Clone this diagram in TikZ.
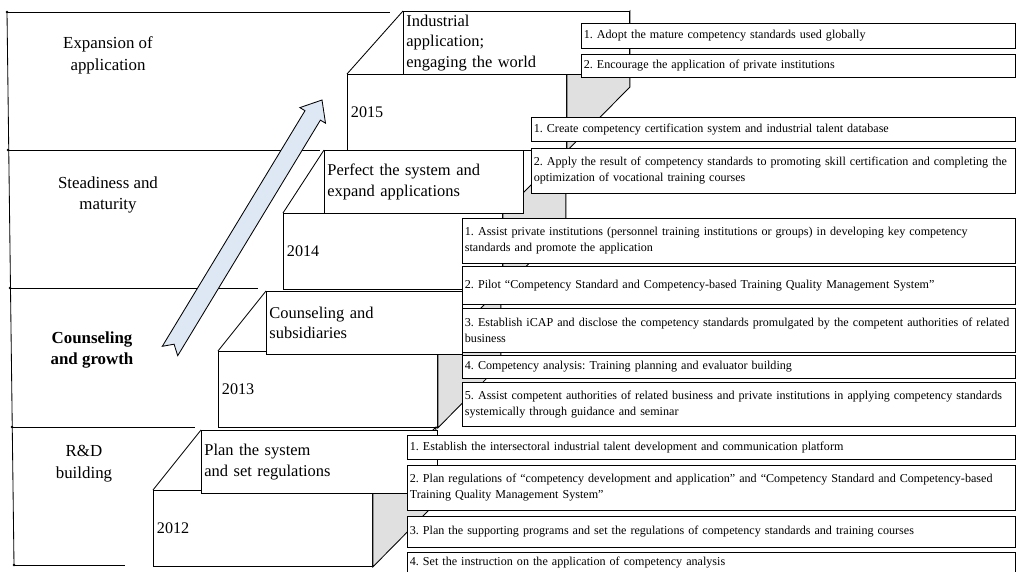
\documentclass[tikz,border=0pt]{standalone}
\usepackage{fontspec}
\setmainfont{Liberation Serif}
\usepackage{tikz}
\usetikzlibrary{positioning}
\frenchspacing
\definecolor{sidegray}{RGB}{224,224,224}
\definecolor{arrowblue}{RGB}{222,232,245}
\tikzset{
    stagelabel/.style = {align=center, font=\fontsize{12}{15.5}\selectfont},
    frontbox/.style = {rectangle, draw=black, fill=white, anchor=north west, minimum width=5.475cm, minimum height=1.9cm, text width=5.3cm, align=left, inner xsep=2pt, font=\fontsize{11.5}{14}\selectfont},
    titlebox/.style = {rectangle, draw=black, fill=white, anchor=north west, minimum height=1.575cm, align=left, inner xsep=2pt, inner ysep=1pt, font=\fontsize{11.7}{14.6}\selectfont},
    itembox/.style = {rectangle, draw=black, fill=white, anchor=north west, align=left, inner xsep=1.5pt, inner ysep=1pt, font=\fontsize{8.6}{11.4}\selectfont},
    sideface/.style = {draw=black, fill=sidegray},
}
\begin{document}
\begin{tikzpicture}[x=0.025cm, y=-0.025cm, line width=0.6pt]
\useasboundingbox (0,0) rectangle (1016,571);
% stage axis
\coordinate (ax0) at (7,12);
\coordinate (ax1) at (8,150);
\coordinate (ax2) at (10,288);
\coordinate (ax3) at (12,427);
\coordinate (ax4) at (14,565);
\coordinate (ae0) at (390,12);
\coordinate (ae1) at (320,150);
\coordinate (ae2) at (258,288);
\coordinate (ae3) at (195,427);
\coordinate (ae4) at (125,565);
\draw (ax0) -- (ax4);
\foreach \i in {0,...,4} {
    \draw (ax\i) -- (ae\i);
    \fill (ax\i) circle (1.4);
}
\node[stagelabel] at (108,55) (s4) {Expansion of\\application};
\node[stagelabel] at (108,195) (s3) {Steadiness and\\maturity};
\node[stagelabel, font=\fontsize{12}{15.5}\selectfont\bfseries] at (92,350) (s2) {Counseling\\and growth};
\node[stagelabel] at (84,464) (s1) {R\&D\\building};
%
% 2015
\node[frontbox] at (347,74) (f2015) {2015};
\draw[sideface] (f2015.north east) -- ++(63,-63) -- ++(0,76) -- (f2015.south east) -- cycle;
\node[titlebox, minimum width=5.65cm, text width=5.5cm] at (403,11) (t2015) {Industrial\\application;\\engaging the world};
\draw (f2015.north west) -- (t2015.north west);
% 2014
\node[frontbox] at (283,213) (f2014) {2014};
\draw[sideface] (f2014.north east) -- ++(63,-63) -- ++(0,76) -- (f2014.south east) -- cycle;
\node[titlebox, minimum width=4.975cm, text width=4.825cm] at (324,150) (t2014) {Perfect the system and\\expand applications};
\draw (f2014.north west) -- (t2014.north west);
% 2013
\node[frontbox] at (218,351) (f2013) {2013};
\draw[sideface] (f2013.north east) -- ++(63,-63) -- ++(0,76) -- (f2013.south east) -- cycle;
\node[titlebox, minimum width=4.9cm, text width=4.75cm] at (266,291) (t2013) {Counseling and\\subsidiaries};
\draw (f2013.north west) -- (t2013.north west);
% 2012
\node[frontbox] at (153,490) (f2012) {2012};
\draw[sideface] (f2012.north east) -- ++(63,-63) -- ++(0,76) -- (f2012.south east) -- cycle;
\node[titlebox, minimum width=5.9cm, text width=5.75cm] at (201,430) (t2012) {Plan the system\\and set regulations};
\draw (f2012.north west) -- (t2012.north west);
%
% growth arrow
\draw[fill=arrowblue] (162.3,346.3) -- (174.1,344.2) -- (177.7,355.7) -- (320.4,120.1) -- (325.5,123.2)
    -- (322,100) -- (299.9,107.6) -- (305.0,110.7) -- cycle;
%
% tasks of each year
\node[itembox, minimum width=10.85cm, minimum height=0.625cm, text width=10.73cm] at (581,23) (a1) {1. Adopt the mature competency standards used globally};
\node[itembox, minimum width=10.85cm, minimum height=0.575cm, text width=10.73cm] at (581,54) (a2) {2. Encourage the application of private institutions};
%
\node[itembox, minimum width=12.1cm, minimum height=0.6cm, text width=11.98cm] at (531,117) (b1) {1. Create competency certification system and industrial talent database};
\node[itembox, minimum width=12.1cm, minimum height=1.125cm, text width=11.98cm] at (531,148) (b2) {2. Apply the result of competency standards to promoting skill certification and completing the\\optimization of vocational training courses};
%
\node[itembox, minimum width=13.825cm, minimum height=1.125cm, text width=13.7cm] at (462,218) (c1) {1. Assist private institutions (personnel training institutions or groups) in developing key competency\\standards and promote the application};
\node[itembox, minimum width=13.825cm, minimum height=0.95cm, text width=13.7cm] at (462,266) (c2) {2. Pilot “Competency Standard and Competency-based Training Quality Management System”};
\node[itembox, minimum width=13.825cm, minimum height=1.1cm, text width=13.7cm] at (462,308) (c3) {3. Establish iCAP and disclose the competency standards promulgated by the competent authorities of related\\business};
\node[itembox, minimum width=13.825cm, minimum height=0.575cm, text width=13.7cm] at (462,355) (c4) {4. Competency analysis: Training planning and evaluator building};
\node[itembox, minimum width=13.825cm, minimum height=1.1cm, text width=13.7cm] at (462,382) (c5) {5. Assist competent authorities of related business and private institutions in applying competency standards\\systemically through guidance and seminar};
%
\node[itembox, minimum width=15.2cm, minimum height=0.6cm, text width=15.08cm] at (407,435) (d1) {1. Establish the intersectoral industrial talent development and communication platform};
\node[itembox, minimum width=15.2cm, minimum height=1.125cm, text width=15.08cm] at (407,465) (d2) {2. Plan regulations of “competency development and application” and “Competency Standard and Competency-based\\Training Quality Management System”};
\node[itembox, minimum width=15.2cm, minimum height=0.775cm, text width=15.08cm] at (407,516) (d3) {3. Plan the supporting programs and set the regulations of competency standards and training courses};
\node[itembox, minimum width=15.2cm, minimum height=0.5cm, text width=15.08cm] at (407,552) (d4) {4. Set the instruction on the application of competency analysis};
\end{tikzpicture}
\end{document}
